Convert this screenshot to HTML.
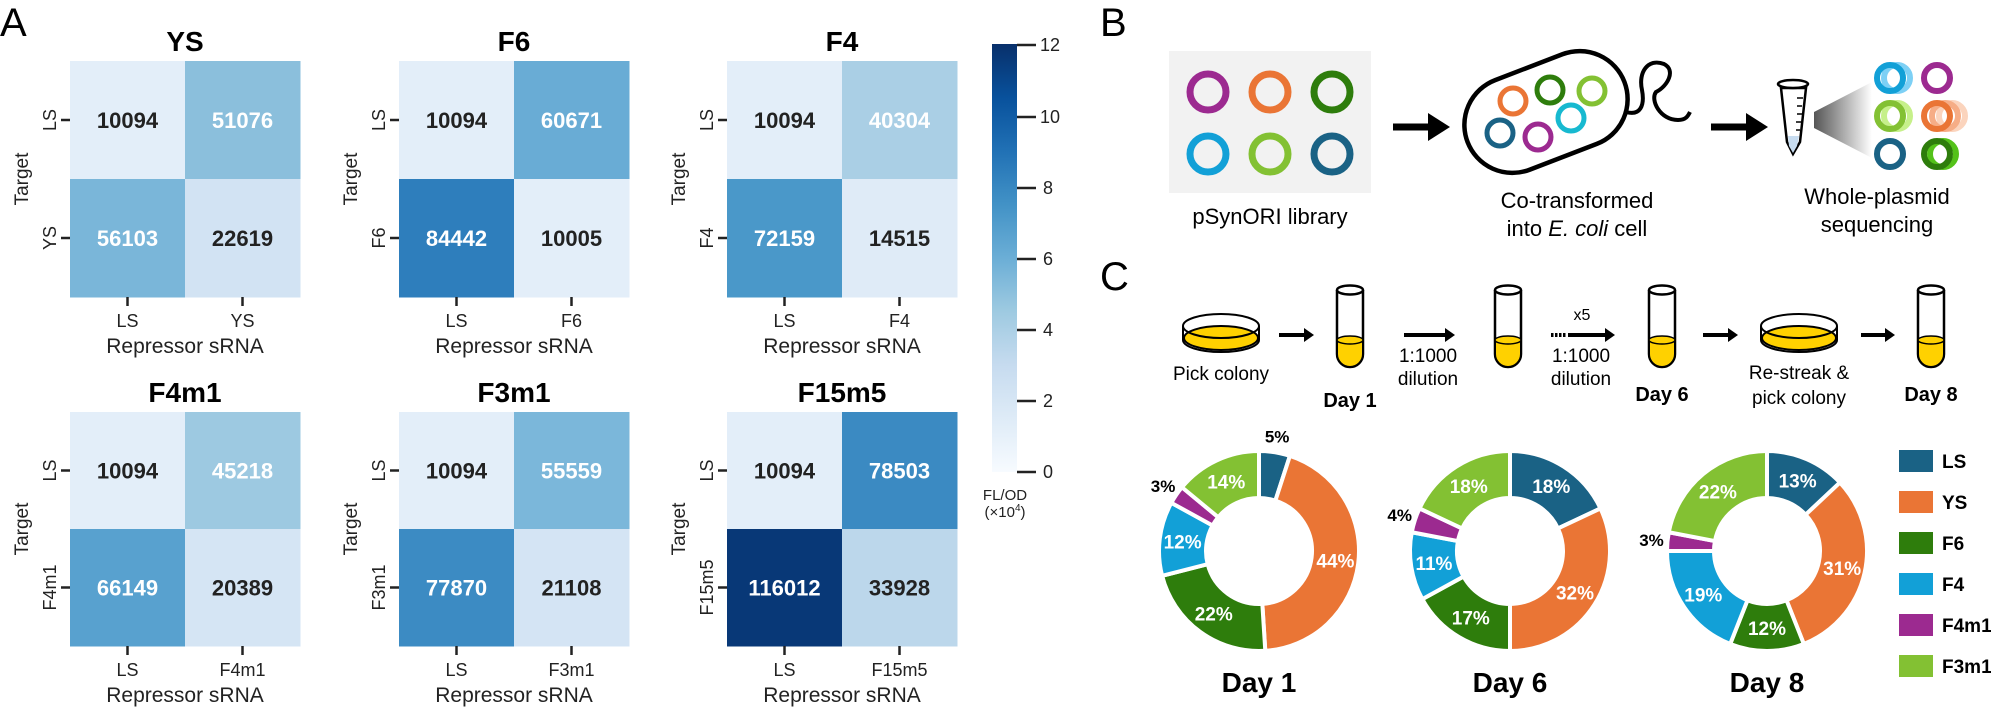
<!DOCTYPE html>
<html><head><meta charset="utf-8"><style>
html,body{margin:0;padding:0;background:#fff;}
svg{display:block;font-family:"Liberation Sans",Arial,sans-serif;}
</style></head><body>
<svg id="s" width="1991" height="709" viewBox="0 0 1991 709" xmlns="http://www.w3.org/2000/svg">
<defs>
<linearGradient id="cb" x1="0" y1="1" x2="0" y2="0">
<stop offset="0" stop-color="#f7fbff"/><stop offset="0.125" stop-color="#deebf7"/><stop offset="0.25" stop-color="#c6dbef"/><stop offset="0.375" stop-color="#9ecae1"/><stop offset="0.5" stop-color="#6baed6"/><stop offset="0.625" stop-color="#4292c6"/><stop offset="0.75" stop-color="#2171b5"/><stop offset="0.875" stop-color="#08519c"/><stop offset="1" stop-color="#08306b"/>
</linearGradient>
<linearGradient id="tri" x1="0" y1="0" x2="1" y2="0">
<stop offset="0" stop-color="#555"/><stop offset="1" stop-color="#fff"/>
</linearGradient>
</defs>
<text x="0" y="36" font-size="40">A</text>
<g id="hm"></g>
<!-- colorbar -->
<rect x="992" y="44" width="25" height="428" fill="url(#cb)"/>
<g stroke="#222" stroke-width="2.5">
<line x1="1017" y1="45" x2="1036" y2="45"/><line x1="1017" y1="117" x2="1036" y2="117"/><line x1="1017" y1="188" x2="1036" y2="188"/><line x1="1017" y1="259" x2="1036" y2="259"/><line x1="1017" y1="330" x2="1036" y2="330"/><line x1="1017" y1="401" x2="1036" y2="401"/><line x1="1017" y1="472" x2="1036" y2="472"/>
</g>
<g font-size="18" fill="#222">
<text x="1040" y="51">12</text><text x="1040" y="123">10</text><text x="1043" y="194">8</text><text x="1043" y="265">6</text><text x="1043" y="336">4</text><text x="1043" y="407">2</text><text x="1043" y="478">0</text>
</g>
<text x="1005" y="500" font-size="15" fill="#222" text-anchor="middle">FL/OD</text>
<text x="1005" y="517" font-size="15" fill="#222" text-anchor="middle">(×10<tspan font-size="10" dy="-6">4</tspan><tspan dy="6">)</tspan></text>

<!-- Panel B -->
<text x="1100" y="36" font-size="40">B</text>
<rect x="1169" y="51" width="202" height="142" fill="#f2f2f2"/>
<g fill="none" stroke-width="7">
<circle cx="1208" cy="92" r="18" stroke="#9c2a90"/><circle cx="1270" cy="92" r="18" stroke="#ea7535"/><circle cx="1332" cy="92" r="18" stroke="#2e7d0c"/>
<circle cx="1208" cy="154" r="18" stroke="#12a0d7"/><circle cx="1270" cy="154" r="18" stroke="#83c133"/><circle cx="1332" cy="154" r="18" stroke="#1a6285"/>
</g>
<text x="1270" y="224" font-size="22" text-anchor="middle">pSynORI library</text>
<path d="M1393 127 H1432" stroke="#000" stroke-width="7"/><path d="M1428 113 L1450 127 L1428 141 Z" fill="#000"/>
<rect x="1462" y="64" width="168" height="96" rx="48" transform="rotate(-21 1546 112)" fill="none" stroke="#000" stroke-width="4.5"/>
<path d="M1626 112 C1640 116 1645 106 1642 90 C1638 72 1648 58 1664 64 C1676 70 1668 86 1656 92 C1650 100 1660 120 1678 120 C1686 120 1688 116 1690 112" fill="none" stroke="#000" stroke-width="4"/>
<g fill="none" stroke-width="5">
<circle cx="1513" cy="101" r="13" stroke="#ea7535"/><circle cx="1550" cy="90" r="13" stroke="#2e7d0c"/><circle cx="1592" cy="91" r="13" stroke="#83c133"/>
<circle cx="1500" cy="133" r="13" stroke="#1a6285"/><circle cx="1538" cy="137" r="13" stroke="#9c2a90"/><circle cx="1571" cy="118" r="13" stroke="#17b9d0"/>
</g>
<text x="1577" y="208" font-size="22" text-anchor="middle">Co-transformed</text>
<text x="1577" y="236" font-size="22" text-anchor="middle">into <tspan font-style="italic">E. coli</tspan> cell</text>
<path d="M1711 127 H1750" stroke="#000" stroke-width="7"/><path d="M1746 113 L1768 127 L1746 141 Z" fill="#000"/>
<!-- eppendorf -->
<path d="M1781 88 H1806 L1800 142 L1793 154 L1787 142 Z" fill="#fff" stroke="#000" stroke-width="2.5"/>
<path d="M1788 136 H1799 L1797 146 L1793 153 L1789 146 Z" fill="#c7dcf0"/>
<ellipse cx="1793" cy="84" rx="15" ry="4" fill="#fff" stroke="#000" stroke-width="2.5"/>
<g stroke="#000" stroke-width="1.5"><line x1="1797" y1="98" x2="1803" y2="98"/><line x1="1797" y1="106" x2="1802" y2="106"/><line x1="1797" y1="114" x2="1802" y2="114"/><line x1="1796" y1="122" x2="1801" y2="122"/><line x1="1796" y1="130" x2="1800" y2="130"/></g>
<path d="M1814 112 L1872 82 L1872 158 L1814 128 Z" fill="url(#tri)"/>
<g fill="none" stroke-width="6">
<circle cx="1897" cy="78" r="13" stroke="#7dd0f5"/><circle cx="1890" cy="78" r="13" stroke="#12a0d7"/>
<circle cx="1937" cy="78" r="13" stroke="#9c2a90"/>
<circle cx="1897" cy="116" r="13" stroke="#c6f08a"/><circle cx="1890" cy="116" r="13" stroke="#83c133"/>
<circle cx="1952" cy="116" r="13" stroke="#fbd4bd"/><circle cx="1945" cy="116" r="13" stroke="#f6ad86"/><circle cx="1937" cy="116" r="13" stroke="#ea7535"/>
<circle cx="1890" cy="154" r="13" stroke="#1a6285"/>
<circle cx="1943" cy="154" r="13" stroke="#54c21a"/><circle cx="1937" cy="154" r="13" stroke="#2e7d0c"/>
</g>
<text x="1877" y="204" font-size="22" text-anchor="middle">Whole-plasmid</text>
<text x="1877" y="232" font-size="22" text-anchor="middle">sequencing</text>

<!-- Panel C -->
<text x="1100" y="290" font-size="40">C</text>
<g id="flow" stroke="#000" stroke-width="2.5"></g>
<g font-size="19" text-anchor="middle">
<text x="1221" y="380">Pick colony</text>
<text x="1428" y="362">1:1000</text><text x="1428" y="385">dilution</text>
<text x="1582" y="320" font-size="16">x5</text>
<text x="1581" y="362">1:1000</text><text x="1581" y="385">dilution</text>
<text x="1799" y="379">Re-streak &amp;</text><text x="1799" y="404">pick colony</text>
</g>
<g font-size="20" font-weight="bold" text-anchor="middle">
<text x="1350" y="407">Day 1</text><text x="1662" y="401">Day 6</text><text x="1931" y="401">Day 8</text>
</g>
<g id="donuts"></g>
<g font-size="28" font-weight="bold" text-anchor="middle">
<text x="1259" y="692">Day 1</text><text x="1510" y="692">Day 6</text><text x="1767" y="692">Day 8</text>
</g>
<g id="leg"></g>
</svg>
<script>
var NS="http://www.w3.org/2000/svg";
function el(p,t,a,txt){var e=document.createElementNS(NS,t);for(var k in a)e.setAttribute(k,a[k]);if(txt!=null)e.textContent=txt;document.getElementById(p).appendChild(e);return e;}
var hm=[
["YS",["LS","YS"],[[10094,"#e3eef9",0],[51076,"#8bbfdc",1],[56103,"#7ab6d9",1],[22619,"#d2e3f3",0]]],
["F6",["LS","F6"],[[10094,"#e3eef9",0],[60671,"#69acd5",1],[84442,"#2e7ebc",1],[10005,"#e3eef9",0]]],
["F4",["LS","F4"],[[10094,"#e3eef9",0],[40304,"#aacfe5",1],[72159,"#4a98c9",1],[14515,"#dfebf7",0]]],
["F4m1",["LS","F4m1"],[[10094,"#e3eef9",0],[45218,"#9dc9e1",1],[66149,"#58a1cf",1],[20389,"#d5e5f4",0]]],
["F3m1",["LS","F3m1"],[[10094,"#e3eef9",0],[55559,"#7bb7da",1],[77870,"#3c8bc3",1],[21108,"#d4e4f4",0]]],
["F15m5",["LS","F15m5"],[[10094,"#e3eef9",0],[78503,"#3b8ac2",1],[116012,"#083877",1],[33928,"#bcd7eb",0]]]];
var xs=[70,399,727];
hm.forEach(function(h,i){
 var x0=xs[i%3], y0=i<3?61:412, H=i<3?236:234, W=230, cw=W/2, ch=H/2;
 el("hm","text",{x:x0+cw,y:y0-10,"font-size":28,"font-weight":"bold","text-anchor":"middle"},h[0]);
 for(var k=0;k<4;k++){var r=Math.floor(k/2),c=k%2,d=h[2][k];
  el("hm","rect",{x:x0+c*cw,y:y0+r*ch,width:cw+0.5,height:ch+0.5,fill:d[1]});
  el("hm","text",{x:x0+c*cw+cw/2,y:y0+r*ch+ch/2+8,"font-size":22,"font-weight":"bold","text-anchor":"middle",fill:d[2]?"#fff":"#222"},d[0]);}
 for(var j=0;j<2;j++){
  var ty=y0+ch*j+ch/2, tx=x0+cw*j+cw/2;
  el("hm","line",{x1:x0-9,y1:ty,x2:x0,y2:ty,stroke:"#222","stroke-width":2.5});
  el("hm","text",{x:x0-14,y:ty,"font-size":18,fill:"#222","text-anchor":"middle",transform:"rotate(-90 "+(x0-14)+" "+ty+")"},h[1][j]);
  el("hm","line",{x1:tx,y1:y0+H,x2:tx,y2:y0+H+9,stroke:"#222","stroke-width":2.5});
  el("hm","text",{x:tx,y:y0+H+30,"font-size":18,fill:"#222","text-anchor":"middle"},h[1][j]);}
 var cy=y0+H/2;
 el("hm","text",{x:x0-42,y:cy,"font-size":19,fill:"#222","text-anchor":"middle",transform:"rotate(-90 "+(x0-42)+" "+cy+")"},"Target");
 el("hm","text",{x:x0+cw,y:y0+H+56,"font-size":21,fill:"#222","text-anchor":"middle"},"Repressor sRNA");
});
// flow
function tube(x,p){el(p,"path",{d:"M"+x+" 290 V354 A13 13 0 0 0 "+(x+26)+" 354 V290",fill:"#fff",stroke:"#000","stroke-width":2.5});
 el(p,"path",{d:"M"+x+" 340 V354 A13 13 0 0 0 "+(x+26)+" 354 V340 Z",fill:"#ffd100",stroke:"#000","stroke-width":2});
 el(p,"ellipse",{cx:x+13,cy:340,rx:13,ry:4,fill:"#ffd100",stroke:"#000","stroke-width":1.5});
 el(p,"ellipse",{cx:x+13,cy:290,rx:13,ry:4.5,fill:"#fff",stroke:"#000","stroke-width":2.5});}
function dish(cx,p){el(p,"path",{d:"M"+(cx-38)+" 326 V340 A38 12 0 0 0 "+(cx+38)+" 340 V326",fill:"#fff",stroke:"#000","stroke-width":2});
 el(p,"ellipse",{cx:cx,cy:338,rx:37,ry:12,fill:"#ffd100",stroke:"#000","stroke-width":2});
 el(p,"ellipse",{cx:cx,cy:326,rx:38,ry:12,fill:"none",stroke:"#000","stroke-width":2});}
function arr(x1,x2,p){el(p,"line",{x1:x1,y1:335,x2:x2-8,y2:335,stroke:"#000","stroke-width":4});
 el(p,"path",{d:"M"+(x2-10)+" 328 L"+x2+" 335 L"+(x2-10)+" 342 Z",fill:"#000",stroke:"none"});}
dish(1221,"flow");tube(1337,"flow");tube(1495,"flow");tube(1649,"flow");dish(1799,"flow");tube(1918,"flow");
arr(1279,1314,"flow");arr(1404,1455,"flow");arr(1568,1615,"flow");arr(1703,1738,"flow");arr(1861,1895,"flow");
el("flow","line",{x1:1551,y1:335,x2:1566,y2:335,stroke:"#000","stroke-width":4,"stroke-dasharray":"2.5 1.5"});
// donuts
var cols=["#1a6285","#ea7535","#2e7d0c","#12a0d7","#9c2a90","#83c133"];
var data=[[1259,[5,44,22,12,3,14]],[1510,[18,32,17,11,4,18]],[1767,[13,31,12,19,3,22]]];
var R=100,r=53,cy=551;
data.forEach(function(d){var cx=d[0],a=0;
 d[1].forEach(function(v,i){var a0=a/100*2*Math.PI,a1=(a+v)/100*2*Math.PI;a+=v;
  function pt(rad,an){return [cx+rad*Math.sin(an),cy-rad*Math.cos(an)];}
  var p1=pt(R,a0),p2=pt(R,a1),p3=pt(r,a1),p4=pt(r,a0),lg=(a1-a0)>Math.PI?1:0;
  el("donuts","path",{d:"M"+p1+" A"+R+" "+R+" 0 "+lg+" 1 "+p2+" L"+p3+" A"+r+" "+r+" 0 "+lg+" 0 "+p4+" Z",fill:cols[i],stroke:"#fff","stroke-width":4});
  var am=(a0+a1)/2;
  if(v>=10){var q=pt(77,am);el("donuts","text",{x:q[0],y:q[1]+7,"font-size":19,"font-weight":"bold",fill:"#fff","text-anchor":"middle"},v+"%");}
  else{var q=pt(116,am);el("donuts","text",{x:q[0],y:q[1]+6,"font-size":17,"font-weight":"bold",fill:"#000","text-anchor":"middle"},v+"%");}
 });});
var names=["LS","YS","F6","F4","F4m1","F3m1"];
names.forEach(function(n,i){var y=461+i*41;
 el("leg","rect",{x:1899,y:y-11,width:34,height:22,fill:cols[i]});
 el("leg","text",{x:1942,y:y+7,"font-size":19,"font-weight":"bold"},n);});
</script>
</body></html>
